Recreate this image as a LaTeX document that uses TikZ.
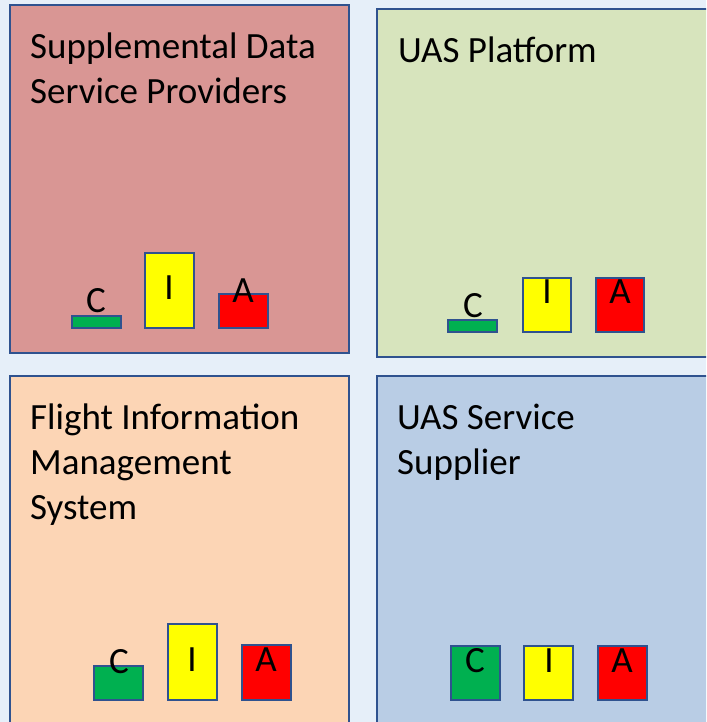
\documentclass[tikz,border=0pt]{standalone}
\usepackage{fontspec}
\setmainfont{Carlito}
\definecolor{bgblue}{RGB}{230,239,249}
\definecolor{edgeblue}{RGB}{47,82,143}
\definecolor{sdspfill}{RGB}{217,150,148}
\definecolor{platfill}{RGB}{215,228,189}
\definecolor{fimsfill}{RGB}{252,213,181}
\definecolor{ussfill}{RGB}{185,205,229}
\definecolor{cgreen}{RGB}{0,176,80}
\definecolor{iyellow}{RGB}{255,255,0}
\definecolor{ared}{RGB}{255,0,0}

\begin{document}
\begin{tikzpicture}[x=1pt,y=-1pt,
    panel/.style={draw=edgeblue,line width=2pt},
    bar/.style={draw=edgeblue,line width=1.5pt},
    lbl/.style={anchor=base,inner sep=0pt,font=\fontsize{37}{45}\selectfont},
    title/.style={anchor=base west,inner sep=0pt,align=left,font=\fontsize{37}{45}\selectfont}]

\useasboundingbox (0,0) rectangle (706,722);
\clip (0,0) rectangle (706,722);
\fill[bgblue] (0,0) rectangle (706,722);

% the four panels
\filldraw[panel, fill=sdspfill] (10,5) rectangle (349,353);
\filldraw[panel, fill=platfill] (377,9) rectangle (720,357);
\filldraw[panel, fill=fimsfill] (10,376) rectangle (349,730);
\filldraw[panel, fill=ussfill] (377,376) rectangle (720,730);

% titles, placed by the baseline of their last line
\node[title] (sdsp) at (30,104) {Supplemental Data\\Service Providers};
\node[title] (plat) at (398,63) {UAS Platform};
\node[title] (fims) at (30,519) {Flight Information\\Management\\System};
\node[title] (uss) at (397,474) {UAS Service\\Supplier};

% C I A bars, supplemental data
\filldraw[bar, fill=cgreen] (72,316) rectangle (121,328);
\filldraw[bar, fill=iyellow] (145,253) rectangle (194,328);
\filldraw[bar, fill=ared] (219,294) rectangle (268,328);
\node[lbl] (sdsp-c) at (96,312) {C};
\node[lbl] (sdsp-i) at (169,299) {I};
\node[lbl] (sdsp-a) at (243,302) {A};

% platform
\filldraw[bar, fill=cgreen] (448,320) rectangle (497,332);
\filldraw[bar, fill=iyellow] (523,278) rectangle (571,332);
\filldraw[bar, fill=ared] (596,278) rectangle (644,332);
\node[lbl] (plat-c) at (473,317) {C};
\node[lbl] (plat-i) at (547,303) {I};
\node[lbl] (plat-a) at (620,303) {A};

% flight information
\filldraw[bar, fill=cgreen] (94,666) rectangle (143,700);
\filldraw[bar, fill=iyellow] (168,624) rectangle (217,700);
\filldraw[bar, fill=ared] (242,645) rectangle (291,700);
\node[lbl] (fims-c) at (119,673) {C};
\node[lbl] (fims-i) at (192,671) {I};
\node[lbl] (fims-a) at (266,671) {A};

% service supplier
\filldraw[bar, fill=cgreen] (451,646) rectangle (500,700);
\filldraw[bar, fill=iyellow] (524,646) rectangle (573,700);
\filldraw[bar, fill=ared] (598,646) rectangle (647,700);
\node[lbl] (uss-c) at (475,672) {C};
\node[lbl] (uss-i) at (549,672) {I};
\node[lbl] (uss-a) at (622,672) {A};

\end{tikzpicture}
\end{document}
